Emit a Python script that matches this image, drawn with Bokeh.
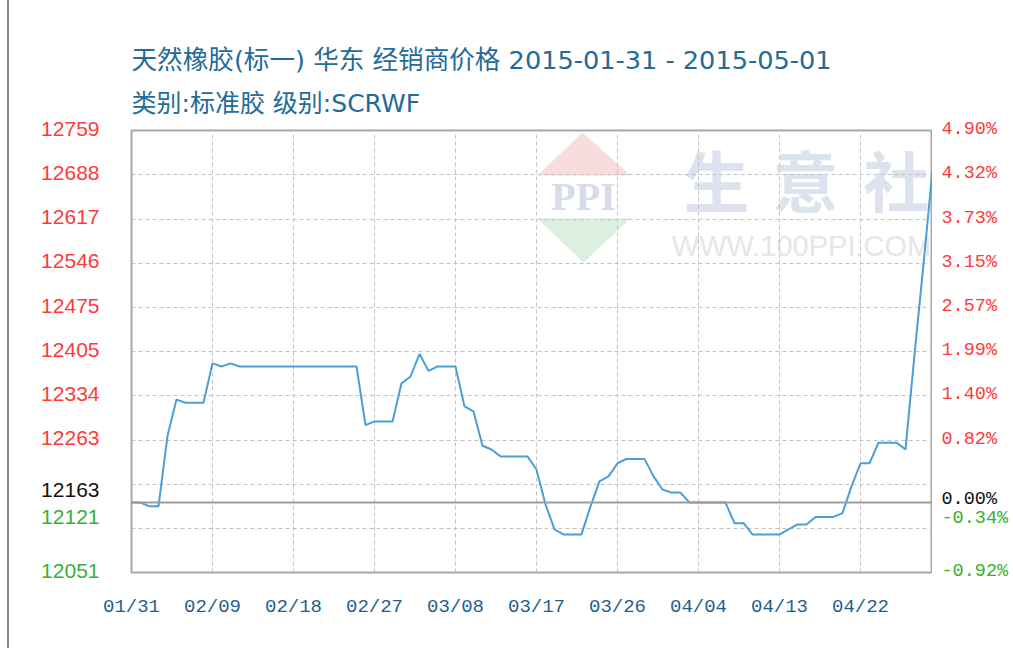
import pandas as pd
from bokeh.plotting import figure
from bokeh.layouts import row
from bokeh.models import (ColumnDataSource, FixedTicker, DatetimeTickFormatter, Span,
                          Label, Title, PolyAnnotation, Range1d)
from bokeh.core.properties import value
from bokeh.embed import file_html
from bokeh.resources import INLINE

# ---------------- data ----------------
title_text = "天然橡胶(标一) 华东 经销商价格 2015-01-31 - 2015-05-01"
subtitle_text = "类别:标准胶 级别:SCRWF"

start_date = "2015-01-31"
price = [
    12163, 12163, 12157, 12157, 12270, 12328, 12323, 12323, 12323, 12386,
    12381, 12386, 12381, 12381, 12381, 12381, 12381, 12381, 12381, 12381,
    12381, 12381, 12381, 12381, 12381, 12381, 12287, 12293, 12293, 12293,
    12354, 12365, 12401, 12374, 12381, 12381, 12381, 12317, 12309, 12254,
    12248, 12237, 12237, 12237, 12237, 12216, 12160, 12120, 12112, 12112,
    12112, 12157, 12197, 12205, 12226, 12233, 12233, 12233, 12205, 12184,
    12179, 12179, 12163, 12163, 12163, 12163, 12163, 12130, 12130, 12112,
    12112, 12112, 12112, 12120, 12128, 12128, 12140, 12140, 12140, 12146,
    12189, 12226, 12226, 12259, 12259, 12259, 12248, 12400, 12545, 12695,
]
base_price = 12163
y_grid_values = [12051, 12121, 12192, 12263, 12334, 12405, 12475, 12546, 12617, 12688, 12759]
left_tick_labels = ["12759", "12688", "12617", "12546", "12475", "12405", "12334",
                    "12263", "12163", "12121", "12051"]
right_tick_labels = ["4.90%", "4.32%", "3.73%", "3.15%", "2.57%", "1.99%", "1.40%",
                     "0.82%", "0.00%", "-0.34%", "-0.92%"]
x_tick_labels = ["01/31", "02/09", "02/18", "02/27", "03/08", "03/17", "03/26",
                 "04/04", "04/13", "04/22"]

# ---------------- derived ----------------
dates = pd.date_range(start_date, periods=len(price), freq="D")
src = ColumnDataSource(dict(date=dates, price=price))

tick_dates = pd.to_datetime(["2015/" + t for t in x_tick_labels], format="%Y/%m/%d")
x_ticks_ms = [t.value // 10**6 for t in tick_dates]

label_vals = [float(v) for v in left_tick_labels]
RED, BLACK, GREEN = "#ff3a3a", "#111111", "#33b233"
label_colors = [RED if v > base_price else (BLACK if v == base_price else GREEN) for v in label_vals]

y_lo, y_hi = min(y_grid_values), max(y_grid_values)

# ---------------- layout constants ----------------
H = 648
TOP, BOTTOM = 130, 76
FRAME_H = H - TOP - BOTTOM          # 442
FRAME_W = 801
MAIN_LEFT = 30
LEFT_W, RIGHT_W = 92, 80
PAD = 20                            # extra px above/below for side label panels
pad_units = (y_hi - y_lo) / FRAME_H * PAD

# ---------------- main figure ----------------
p_main = figure(width=MAIN_LEFT + FRAME_W, height=H, x_axis_type="datetime",
                x_range=Range1d(dates[0], dates[-1]), y_range=Range1d(y_lo, y_hi),
                output_backend="svg", toolbar_location=None, frame_align=False,
                min_border_left=MAIN_LEFT, min_border_right=0, min_border_top=TOP, min_border_bottom=BOTTOM,
                background_fill_color="white", border_fill_color="white")
p_main.outline_line_color = "#a8a8a8"
p_main.outline_line_width = 2

p_main.xgrid.ticker = FixedTicker(ticks=x_ticks_ms)
p_main.ygrid.ticker = FixedTicker(ticks=y_grid_values)
for g in (p_main.xgrid, p_main.ygrid):
    g.grid_line_color = "#c2c2c2"
    g.grid_line_dash = "4 3"
    g.grid_line_width = 1

p_main.yaxis.visible = False
xa = p_main.xaxis[0]
xa.ticker = FixedTicker(ticks=x_ticks_ms)
xa.formatter = DatetimeTickFormatter(days="%m/%d", months="%m/%d")
xa.axis_line_color = None
xa.major_tick_line_color = None
xa.minor_tick_line_color = None
xa.major_label_standoff = 17
xa.major_label_text_font = "Liberation Mono"
xa.major_label_text_font_size = "19px"
xa.major_label_text_color = "#1f5f8e"

# watermark (frame-relative screen units, y measured up from the frame bottom)
p_main.add_layout(PolyAnnotation(xs=[451, 406, 499], ys=[440, 397, 397], xs_units="screen", ys_units="screen",
                                 fill_color="#f9dcdc", fill_alpha=1, line_color=None, level="image"))
p_main.add_layout(PolyAnnotation(xs=[406, 499, 452], ys=[354, 354, 310], xs_units="screen", ys_units="screen",
                                 fill_color="#dcefe0", fill_alpha=1, line_color=None, level="image"))
p_main.add_layout(Label(x=452, y=376, x_units="screen", y_units="screen", text="PPI",
                        text_font="Liberation Serif", text_font_style="bold", text_font_size="40px",
                        text_color="#d6dce8", text_align="center", text_baseline="middle", level="image"))
for cx, ch in zip([585, 674, 765], "生意社"):
    p_main.add_layout(Label(x=cx, y=395, x_units="screen", y_units="screen", text=ch,
                            text_font="Noto Sans CJK SC", text_font_style="bold", text_font_size="66px",
                            text_color="#dce2ee", text_align="center", text_baseline="middle", level="image"))
p_main.add_layout(Label(x=670, y=327, x_units="screen", y_units="screen", text="WWW.100PPI.COM",
                        text_font="Liberation Sans", text_font_size="29px",
                        text_color="#e6e6e6", text_align="center", text_baseline="middle", level="image"))

p_main.add_layout(Span(location=base_price, dimension="width", line_color="#9c9c9c", line_width=2))
p_main.line(x="date", y="price", source=src, line_color="#4a9fd8", line_width=2)

p_main.add_layout(Title(text=subtitle_text, text_font="DejaVu Sans, Noto Sans CJK SC", text_font_size="25px",
                        text_font_style="normal", text_color="#246b98", align="left", standoff=25), "above")
p_main.add_layout(Title(text=title_text, text_font="DejaVu Sans, Noto Sans CJK SC", text_font_size="25.6px",
                        text_font_style="normal", text_color="#246b98", align="left", standoff=0), "above")

# ---------------- side label panels (same vertical scale as the main frame) ----------------
left_dy, right_dy = [], []
for v, lt in zip(label_vals, left_tick_labels):
    if v == base_price:
        left_dy.append(-13); right_dy.append(-3)
    elif lt == "12121":
        left_dy.append(-12); right_dy.append(-10)
    else:
        left_dy.append(-2); right_dy.append(-1)

lab_src = ColumnDataSource(dict(y=label_vals, lt=left_tick_labels, rt=right_tick_labels,
                                c=label_colors, ldy=left_dy, rdy=right_dy,
                                xl=[1.0] * len(label_vals), xr=[0.0] * len(label_vals)))


def side_panel(width):
    f = figure(width=width, height=H, x_range=Range1d(0, 1),
               y_range=Range1d(y_lo - pad_units, y_hi + pad_units),
               output_backend="svg", toolbar_location=None, frame_align=False,
               x_axis_location=None, y_axis_location=None,
               min_border_left=0, min_border_right=0,
               min_border_top=TOP - PAD, min_border_bottom=BOTTOM - PAD,
               background_fill_color="white", border_fill_color="white")
    f.outline_line_color = None
    f.grid.visible = False
    return f


p_left = side_panel(LEFT_W)
p_left.text(x="xl", y="y", text="lt", source=lab_src, x_offset=-2, y_offset="ldy",
            text_align="right", text_baseline="middle", text_color="c",
            text_font=value("Liberation Sans"), text_font_size="21px")

p_right = side_panel(RIGHT_W)
p_right.text(x="xr", y="y", text="rt", source=lab_src, x_offset=9, y_offset="rdy",
             text_align="left", text_baseline="middle", text_color="c",
             text_font=value("Liberation Mono"), text_font_size="18.5px")

p = row(p_left, p_main, p_right, spacing=0,
        styles={"border-left": "2px solid #8a8a8a", "margin-left": "7px"})

open("out.html", "w").write(file_html(p, INLINE))
